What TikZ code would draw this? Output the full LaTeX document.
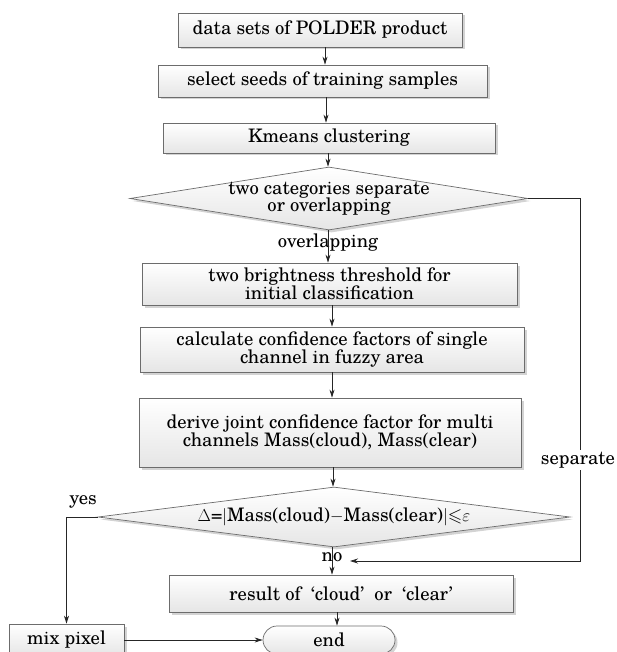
\documentclass[tikz,border=0pt]{standalone}
\usepackage{amssymb}
\usepackage{fontspec}
\setmainfont{texgyreschola-regular.otf}
\usetikzlibrary{arrows.meta,shapes.geometric,shadows}

\begin{document}
\begin{tikzpicture}[x=1pt,y=-1pt,
  font=\fontsize{18.6}{17.5}\selectfont,
  boxshadow/.style={drop shadow={shadow xshift=2.5pt,shadow yshift=-2.5pt,opacity=0.35,fill=gray}},
  procbox/.style={draw=gray!85!black,line width=0.7pt,top color=white,bottom color=gray!20,
    boxshadow,inner sep=0pt,align=center},
  decision/.style={diamond,draw=gray!85!black,line width=0.7pt,top color=white,bottom color=gray!20,
    boxshadow,inner sep=0pt},
  conn/.style={draw=black!85,line width=0.8pt},
  arr/.style={conn,-{Stealth[length=8pt,width=5pt]}},
]
\useasboundingbox (0,0) rectangle (616,652);
\clip (0,0) rectangle (616,652);

% process steps
\node[procbox,minimum width=284pt,minimum height=34pt] (b1) at (320,30) {data sets of POLDER product};
\node[procbox,minimum width=329pt,minimum height=32pt] (b2) at (322.5,81) {select seeds of training samples};
\node[procbox,minimum width=332pt,minimum height=30pt] (b3) at (329,138) {Kmeans clustering};
\node[decision,minimum width=398pt,minimum height=63pt] (d1) at (329,198.5) {};
\node[align=center] (d1t) at (329,198.5) {two categories separate\\or overlapping};
\node (ovl) at (328,243) {overlapping};
\node[procbox,minimum width=375pt,minimum height=42pt] (b4) at (329.5,284) {two brightness threshold for\\initial classification};
\node[procbox,minimum width=384pt,minimum height=45pt] (b5) at (332,349.5) {calculate confidence factors of single\\channel in fuzzy area};
\node[procbox,minimum width=382pt,minimum height=69pt] (b6) at (330,432.5) {derive joint confidence factor for multi\\channels Mass(cloud), Mass(clear)};
\node[decision,minimum width=472pt,minimum height=60pt] (d2) at (334,517) {};
\node (d2t) at (334,517) {$\Delta$=$|$Mass(cloud)$-$Mass(clear)$|{\leqslant}\varepsilon$};
\node[procbox,minimum width=344pt,minimum height=37pt] (b7) at (341,593.5) {result of\ \ `cloud'\ \ or\ \ `clear'};
\node[procbox,rounded corners=14pt,minimum width=132pt,minimum height=28pt] (end) at (329,640) {end};
\node[procbox,minimum width=115pt,minimum height=32pt] (mix) at (66.5,640) {mix pixel};

% main flow
\draw[arr] ([xshift=5pt]b1.south) -- ([xshift=5pt]b1.south |- b2.north);
\draw[arr] ([xshift=3.5pt]b2.south) -- ([xshift=3.5pt]b2.south |- b3.north);
\draw[arr] ([xshift=-1pt]b3.south) -- ([xshift=-1pt]b3.south |- d1.north);
\draw[arr] ([xshift=-1pt]d1.south) -- ([xshift=-1pt]d1.south |- b4.north);
\draw[arr] ([xshift=2.5pt]b4.south) -- ([xshift=2.5pt]b4.south |- b5.north);
\draw[arr] (b5.south) -- (b5.south |- b6.north);
\draw[arr] ([xshift=3pt]b6.south) -- ([xshift=3pt]b6.south |- d2.north);
\draw[arr] ([xshift=-2pt]d2.south) -- ([xshift=-2pt]d2.south |- b7.north);
\draw[arr] ([xshift=-4pt]b7.south) -- ([xshift=-4pt]b7.south |- end.north);

% branches
\coordinate (sepCorner) at (580,561);
\coordinate (sepTip) at (350,561);
\draw[arr] (d1.east) -| (sepCorner) -- (sepTip);
\node[fill=white,inner sep=2pt] (sep) at (578,460) {separate};
\node (no) at (332,557) {no};
\draw[arr] (d2.west) -| (mix.north);
\node (yes) at (83,502) {yes};
\draw[arr] (mix.east) -- (end.west);
\end{tikzpicture}
\end{document}
